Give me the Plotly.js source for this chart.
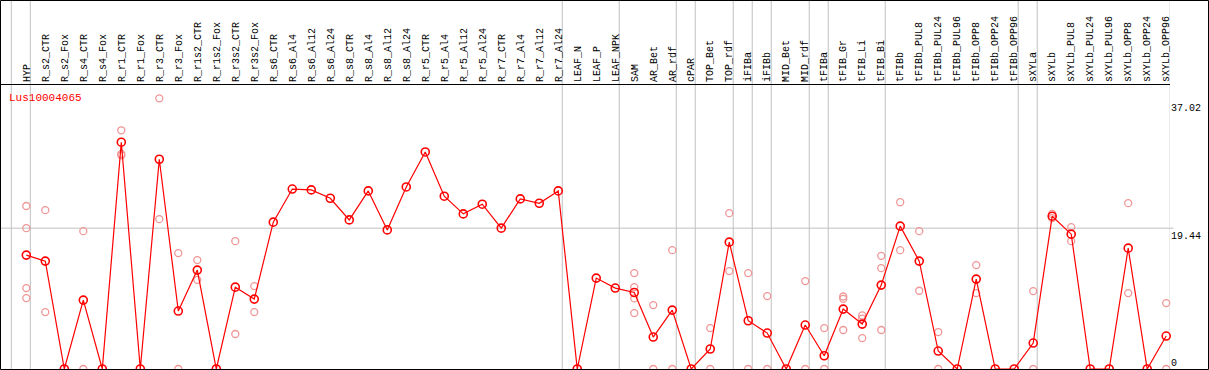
<!DOCTYPE html>
<html>
<head>
<meta charset="utf-8">
<script src="https://cdn.plot.ly/plotly-3.0.1.min.js"></script>
<style>html,body{margin:0;padding:0;background:#fff;}#chart{width:1209px;height:370px;}</style>
</head>
<body>
<div id="chart"></div>
<script>
const geneName = "Lus10004065";
const categories = ["HYP","R_s2_CTR","R_s2_Fox","R_s4_CTR","R_s4_Fox","R_r1_CTR","R_r1_Fox","R_r3_CTR","R_r3_Fox","R_r1s2_CTR","R_r1s2_Fox","R_r3s2_CTR","R_r3s2_Fox","R_s6_CTR","R_s6_Al4","R_s6_Al12","R_s6_Al24","R_s8_CTR","R_s8_Al4","R_s8_Al12","R_s8_Al24","R_r5_CTR","R_r5_Al4","R_r5_Al12","R_r5_Al24","R_r7_CTR","R_r7_Al4","R_r7_Al12","R_r7_Al24","LEAF_N","LEAF_P","LEAF_NPK","SAM","AR_Bet","AR_rdf","cPAR","TOP_Bet","TOP_rdf","iFIBa","iFIBb","MID_Bet","MID_rdf","tFIBa","tFIB_Gr","tFIB_Li","tFIB_Bi","tFIBb","tFIBb_PUL8","tFIBb_PUL24","tFIBb_PUL96","tFIBb_OPP8","tFIBb_OPP24","tFIBb_OPP96","sXYLa","sXYLb","sXYLb_PUL8","sXYLb_PUL24","sXYLb_PUL96","sXYLb_OPP8","sXYLb_OPP24","sXYLb_OPP96"];
const meanValues = [15.72,14.89,0,9.51,0,31.3,0,28.95,8.0,13.65,0,11.3,9.65,20.27,24.84,24.72,23.57,20.58,24.58,19.2,25.13,29.96,23.85,21.41,22.75,19.44,23.48,22.88,24.58,0,12.55,11.17,10.56,4.41,8.13,0,2.76,17.51,6.66,4.96,0,6.07,1.83,8.27,6.2,11.58,19.72,14.89,2.48,0,12.41,0,0,3.58,21.09,18.61,0,0,16.68,0,4.55];
const replicates = [[22.5,19.44,11.17,9.79],[21.92,7.86],[],[19.03,0],[],[32.95,29.68,29.5],[],[37.36,20.68],[15.99,0],[15.03,12.31],[],[17.65,4.83],[11.44,7.86],[],[],[],[],[],[],[],[],[],[],[],[],[],[],[],[],[],[],[],[13.24,11.3,9.74,7.72],[8.82,0],[16.4,0],[],[5.65,0],[21.51,13.51],[13.24,0],[10.06,0],[],[12.13,0],[5.65,0],[10.01,9.69,5.38],[7.39,6.94,4.27],[15.62,13.92,5.38],[23.02,16.4],[19.03,10.8],[5.1,0],[],[14.34,10.48],[],[],[10.75,0],[21.41,20.82],[19.58,17.65],[],[],[22.89,10.48],[],[9.1,0]];
const groupEnds = [-1,0,28,31,34,35,37,38,39,41,42,45,52,53,60];
const yTicks = [19.44,37.02];
const yZeroTick = [0];
const yMax = 39.2;

const idx = categories.map((c,i)=>i);
const repX = [], repY = [];
replicates.forEach((arr,i)=>arr.forEach(v=>{repX.push(i);repY.push(v);}));

const font = {family:"Liberation Mono, DejaVu Sans Mono, monospace", size:10, color:"#000"};

const traces = [
  {x:repX, y:repY, type:"scatter", mode:"markers", cliponaxis:false,
   marker:{symbol:"circle-open", size:7, color:"rgb(240,150,150)", line:{width:1.3, color:"rgb(240,150,150)"}},
   hoverinfo:"skip", showlegend:false},
  {x:idx, y:meanValues, type:"scatter", mode:"lines+markers", cliponaxis:false,
   line:{color:"#ff0000", width:1.2},
   marker:{symbol:"circle-open", size:8, color:"#ff0000", line:{width:1.6, color:"#ff0000"}},
   showlegend:false},
  {x:[0], y:[0], xaxis:"x", yaxis:"y2", type:"scatter", mode:"markers", marker:{opacity:0}, hoverinfo:"skip", showlegend:false}
];

const shapes = [];
groupEnds.forEach(g=>{
  shapes.push({type:"line", xref:"x", yref:"paper", x0:g+0.21, x1:g+0.21, y0:0, y1:1.31,
    line:{color:"#c0c0c0", width:1}, layer:"below"});
});
shapes.push({type:"line", xref:"paper", yref:"y", x0:0, x1:1.003, y0:yTicks[0], y1:yTicks[0],
  line:{color:"#c0c0c0", width:1}, layer:"below"});
shapes.push({type:"rect", xref:"paper", yref:"paper", x0:-0.5/1169, x1:1207.5/1169, y0:-0.5/284, y1:368.5/284,
  line:{color:"#000", width:1}, fillcolor:"rgba(0,0,0,0)"});

const layout = {
  width:1209, height:370,
  margin:{l:1, r:39, t:85, b:1, pad:0},
  paper_bgcolor:"#fff", plot_bgcolor:"#fff",
  font:font,
  title:{text:geneName, font:{family:"Liberation Mono, DejaVu Sans Mono, monospace", size:11, color:"#ff0000"},
    xref:"paper", x:8/1169, xanchor:"left", yref:"container", y:1-97/370, yanchor:"middle"},
  xaxis:{side:"top", range:[-1.332,60.2], tickmode:"array", tickvals:idx, ticktext:categories,
    tickangle:-90, ticks:"", showgrid:false, zeroline:false, showline:true, mirror:true,
    linecolor:"#000", linewidth:1, tickfont:font, fixedrange:true},
  yaxis:{side:"right", range:[0,yMax], tickmode:"array", tickvals:yTicks, ticktext:yTicks.map(v=>v.toFixed(2)),
    ticks:"", showgrid:false, zeroline:false, showline:false, tickfont:font,
    ticklabelposition:"outside bottom", fixedrange:true},
  yaxis2:{overlaying:"y", side:"right", range:[0,yMax], tickmode:"array", tickvals:yZeroTick, ticktext:["0"],
    ticks:"", showgrid:false, zeroline:false, showline:false, tickfont:font,
    ticklabelposition:"outside top", fixedrange:true},
  shapes:shapes,
  showlegend:false
};

Plotly.newPlot("chart", traces, layout, {displayModeBar:false, staticPlot:true});
</script>
</body>
</html>
